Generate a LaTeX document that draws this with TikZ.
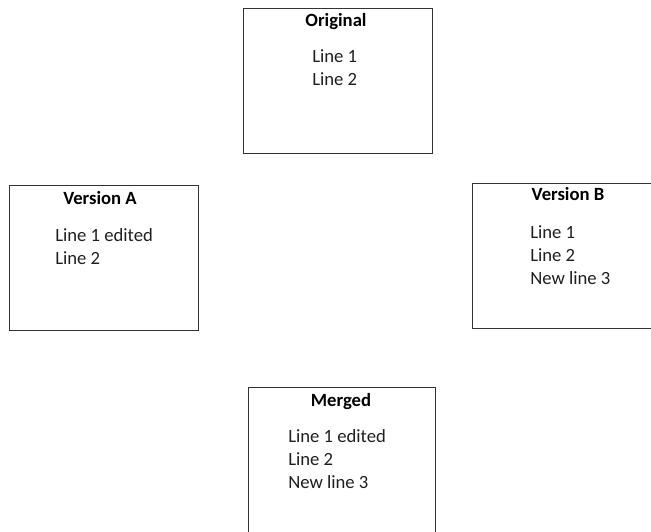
\documentclass[tikz,border=0pt]{standalone}
\usepackage{fontspec}
\setmainfont{Carlito}
\begin{document}
\begin{tikzpicture}[x=0.75pt,y=-0.75pt,
  panel/.style={draw=black!80, line width=0.75pt},
  heading/.style={anchor=base, inner sep=0pt, font=\fontsize{14}{17}\selectfont\bfseries, text=black},
  body/.style={anchor=base west, inner sep=0pt, font=\fontsize{14}{17}\selectfont, text=black!88},
]
\useasboundingbox (0,0) rectangle (651,532);
\clip (0,0) rectangle (651,532);

% Original
\draw[panel] (243,8) rectangle (432,153);
\node[heading] (origT) at (336,26) {Original};
\node[body] (origL1) at (312,62) {Line 1};
\node[body] (origL2) at (312,85) {Line 2};

% Version A
\draw[panel] (9,185) rectangle (198,330);
\node[heading] (aT) at (100,204) {Version A};
\node[body] (aL1) at (55,241) {Line 1 edited};
\node[body] (aL2) at (55,264) {Line 2};

% Version B
\draw[panel] (472,183) rectangle (661,328);
\node[heading] (bT) at (568,200) {Version B};
\node[body] (bL1) at (530,238) {Line 1};
\node[body] (bL2) at (530,261) {Line 2};
\node[body] (bL3) at (530,284) {New line 3};

% Merged
\draw[panel] (248,387) rectangle (435,540);
\node[heading] (mT) at (341,406) {Merged};
\node[body] (mL1) at (288,442) {Line 1 edited};
\node[body] (mL2) at (288,465) {Line 2};
\node[body] (mL3) at (288,488) {New line 3};
\end{tikzpicture}
\end{document}
